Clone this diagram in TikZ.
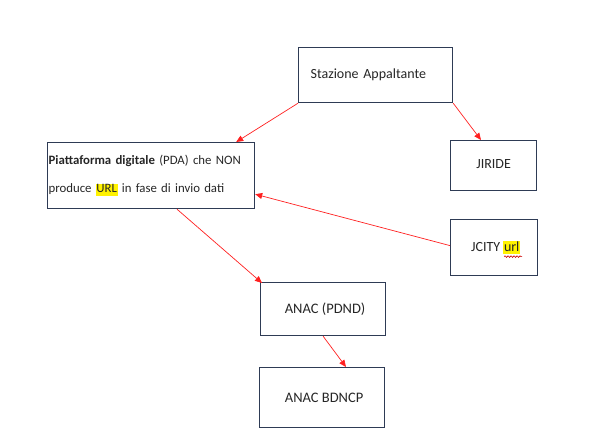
\documentclass[tikz,border=0pt]{standalone}
\usepackage{fontspec}
\setmainfont{Carlito}
\usetikzlibrary{arrows.meta,calc,decorations.pathmorphing}
\definecolor{boxline}{HTML}{2E3B55}
\definecolor{txt}{HTML}{262626}
\definecolor{arr}{HTML}{FF2020}
\newcommand\hlite[1]{{\setlength\fboxsep{0.6pt}\colorbox{yellow}{\vphantom{Ay}#1}}}
\tikzset{
  box/.style={draw=boxline, line width=1.2pt, rectangle, anchor=north west,
    font=\fontsize{14}{16}\selectfont, text=txt, inner sep=0pt},
  conn/.style={draw=arr, line width=0.7pt, -{Triangle[length=7pt,width=6pt]}}
}
\begin{document}
\begin{tikzpicture}[x=1pt,y=-1pt]
\useasboundingbox (0,0) rectangle (600,445);
\node[box, minimum width=154pt, minimum height=55pt, align=left, text width=130pt] (sa) at (298,47) {Stazione Appaltante};
\node[box, minimum width=207pt, minimum height=66pt, align=left, text width=205pt,
  font=\fontsize{12.8}{28}\selectfont] (pda) at (47,142)
  {\mbox{\textbf{Piattaforma digitale} (PDA) che NON}\\\mbox{produce \hlite{URL} in fase di invio dati}};
\node[box, minimum width=86pt, minimum height=50pt] (jiride) at (450,140) {\raisebox{4pt}{JIRIDE}};
\node[box, minimum width=87pt, minimum height=56pt] (jcity) at (450,219) {\hspace{3pt}JCITY \hlite{url}};
\node[box, minimum width=125pt, minimum height=53pt, font=\fontsize{14.5}{16}\selectfont] (pdnd) at (260,282) {\hspace{4pt}\raisebox{-4pt}{ANAC (PDND)}};
\node[box, minimum width=125pt, minimum height=60pt, font=\fontsize{14.5}{16}\selectfont] (bdncp) at (259,367) {\hspace{4pt}ANAC BDNCP};
\draw[decorate, decoration={snake, amplitude=0.8pt, segment length=3pt}, draw=red!80!black, line width=0.6pt]
  ($(jcity.center)+(10,9)$) -- ($(jcity.center)+(28,9)$);
\draw[conn] (sa.south west) -- ($(pda.north east)+(-19,0)$);
\draw[conn] (sa.south east) -- ($(jiride.north west)+(31,0)$);
\draw[conn] ($(jcity.west)+(0,-2)$) -- ($(pda.south east)+(0,-15)$);
\draw[conn] ($(pda.south west)+(130,0)$) -- ($(pdnd.north west)+(2,1)$);
\draw[conn] (pdnd.south) -- ($(bdncp.north west)+(87,0)$);
\end{tikzpicture}
\end{document}
